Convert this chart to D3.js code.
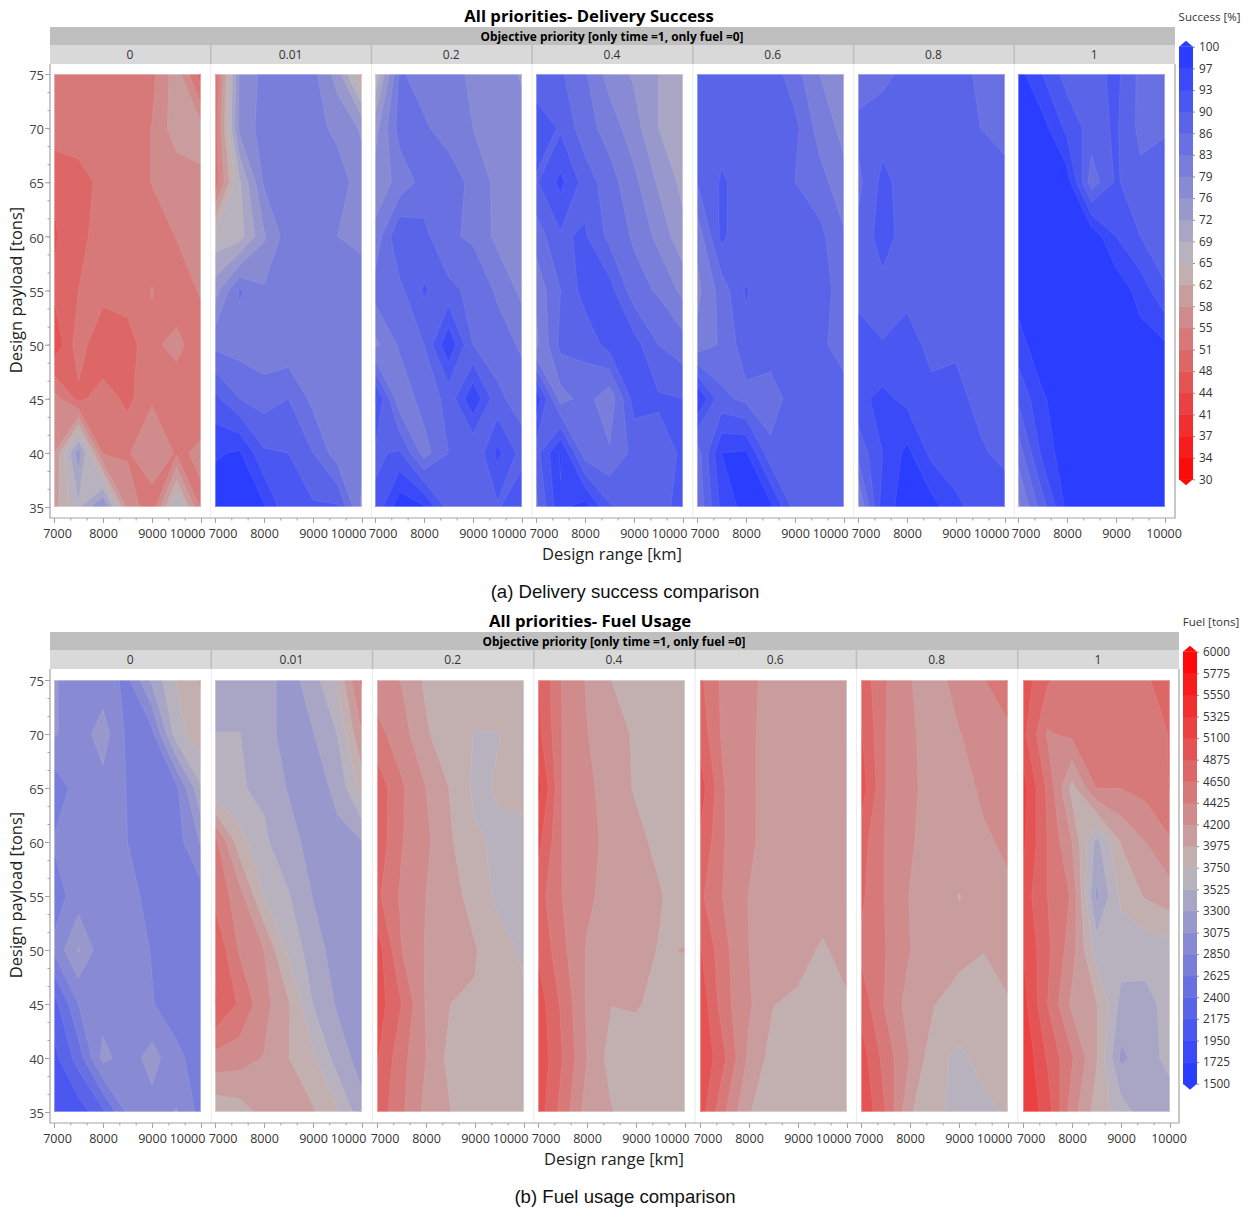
<!DOCTYPE html>
<html>
<head>
<meta charset="utf-8">
<script src="https://d3js.org/d3.v7.min.js"></script>
<style>
  html, body { margin: 0; padding: 0; background: #fff; }
  svg { display: block; }
  text { font-family: "Open Sans", "Noto Sans", sans-serif; }
</style>
</head>
<body>
<svg id="svg" width="1251" height="1209"></svg>
<script>
// grid axes of every panel
var rangeKm = [7000, 7500, 8000, 8500, 9000, 9500, 10000];
var payloadTons = [75, 70, 65, 60, 55, 50, 45, 40, 35];
var priorities = ["0", "0.01", "0.2", "0.4", "0.6", "0.8", "1"];
var rangeTicks = [7000, 8000, 9000, 10000];
var payloadTicks = [35, 40, 45, 50, 55, 60, 65, 70, 75];
var successTicks = [100, 97, 93, 90, 86, 83, 79, 76, 72, 69, 65, 62, 58, 55, 51, 48, 44, 41, 37, 34, 30];
var fuelTicks = [6000, 5775, 5550, 5325, 5100, 4875, 4650, 4425, 4200, 3975, 3750, 3525, 3300, 3075, 2850, 2625, 2400, 2175, 1950, 1725, 1500];

// delivery success [%], rows follow payloadTons, columns follow rangeKm
var success0 = [
  [53, 53, 53, 53, 53.5, 60, 49],
  [53, 53, 53, 53, 54.6, 60, 59],
  [48, 49.5, 52, 53, 54.6, 55.5, 57.5],
  [47, 50, 52.5, 53, 53, 54.6, 55.5],
  [48, 51, 52.5, 53, 54.6, 53, 54.8],
  [44.5, 53, 47.5, 49, 54, 55.2, 53],
  [56, 50, 53, 50, 54, 53, 53],
  [58, 74, 54, 54, 58, 54, 55],
  [60, 68, 76, 57, 52, 69, 54]
];
var success1 = [
  [50, 76, 80, 80, 80, 74, 60],
  [52, 76.5, 80.5, 81, 80.5, 78, 75],
  [52, 68, 79.5, 81, 81, 81, 77],
  [66, 67, 75, 81, 81, 79, 78],
  [74, 83, 79.5, 80, 81, 81, 81],
  [81.5, 81, 80, 80, 80, 80, 80],
  [90.5, 86, 84.5, 86, 81.5, 80, 80],
  [96, 97, 90, 89.5, 86, 80.5, 80],
  [99, 99, 97, 90, 90, 90, 78]
];
var success2 = [
  [65, 83, 81, 81, 78, 78, 75],
  [74, 84, 83, 81, 79, 77.5, 77],
  [77, 80, 84, 84.5, 81.5, 78, 77],
  [80, 89.5, 87, 83, 82, 78, 77],
  [84, 85, 90, 87, 85, 82, 78],
  [78, 83, 86, 96, 86, 84, 82],
  [94, 80, 84, 87, 96, 87, 84],
  [89, 90, 81, 86, 86, 94, 88],
  [90, 99, 97, 88, 87, 89, 93]
];
var success3 = [
  [87, 86.5, 83, 77.5, 75, 72, 71],
  [92, 89, 84, 81, 77, 72, 71],
  [89, 94, 88, 84, 80, 75, 71],
  [84, 89, 90, 85, 82, 78, 73],
  [80, 86, 91, 91, 84, 82, 78],
  [78, 87, 87, 91, 91, 86, 84],
  [96, 81, 84, 80, 91, 90, 89.5],
  [88, 97, 84, 83, 87, 88, 90],
  [85, 96, 98, 90, 87, 89, 90]
];
var success4 = [
  [87, 88, 88, 88, 84, 79, 77],
  [87, 88, 88, 88, 87, 81, 78],
  [86, 90, 88, 88, 86, 84, 80],
  [80, 90.5, 86, 88, 88, 87, 83],
  [78, 84, 90, 86, 88, 88, 84],
  [80, 83, 88, 88, 88, 87, 84],
  [97, 87, 85, 84, 88, 88, 88],
  [84, 96.5, 97, 87, 88, 88, 87],
  [83, 94, 98, 97.5, 88, 88, 88]
];
var success5 = [
  [84, 85, 87, 88, 88, 85, 84],
  [87, 88, 88, 88, 88, 86, 85],
  [85, 90.5, 88, 88, 86.5, 88, 87],
  [87, 91, 88, 88, 88, 88, 88],
  [88.5, 88.5, 88.5, 88, 88, 88, 88],
  [91, 89.6, 91, 88.5, 89, 88, 88],
  [92, 94, 92, 90.5, 90.5, 88.5, 87],
  [87, 93, 97.5, 92, 90.5, 90, 88.5],
  [78, 95, 98, 98, 94, 91, 91.6]
];
var success6 = [
  [98, 93, 88, 88, 90.5, 85, 85],
  [97, 98, 92, 88, 90, 85, 85.8],
  [98, 98, 98.5, 84, 90, 87, 87],
  [98, 99, 99, 99, 93, 89.5, 87],
  [98, 99, 99, 99, 99, 95, 90],
  [95, 99, 99, 99, 99, 98, 97],
  [90, 96, 99, 99, 99, 99, 99],
  [84, 94, 99, 99, 99, 99, 99],
  [78, 88, 97.5, 99, 99, 99, 99]
];

// fuel usage [tons], same layout as above
var fuel0 = [
  [3100, 2950, 2950, 2800, 3350, 3760, 4000],
  [3100, 2960, 3180, 2800, 2780, 3650, 3900],
  [2700, 2950, 3000, 2840, 2750, 2800, 3500],
  [2870, 2950, 2950, 2850, 2750, 2750, 3100],
  [2750, 2950, 3050, 2900, 2800, 2750, 2750],
  [2900, 3320, 2912, 2950, 2840, 2750, 2750],
  [2300, 2850, 2960, 2950, 2860, 2750, 2750],
  [2100, 2500, 3150, 2950, 3170, 2900, 2750],
  [2050, 2050, 2350, 2900, 2980, 3090, 2770]
];
var fuel1 = [
  [3400, 3400, 3400, 3200, 3420, 3800, 4500],
  [3530, 3530, 3400, 3200, 3290, 3530, 4200],
  [3550, 3540, 3490, 3280, 3200, 3350, 3850],
  [4500, 3850, 3560, 3400, 3200, 3250, 3290],
  [4600, 4300, 3750, 3540, 3290, 3200, 3200],
  [4850, 4400, 4200, 3700, 3400, 3200, 3200],
  [4900, 4620, 4280, 4000, 3520, 3270, 3200],
  [4350, 4300, 4190, 3980, 3800, 3420, 3200],
  [3800, 3870, 4050, 3975, 4000, 3770, 3375]
];
var fuel2 = [
  [4300, 4190, 3930, 3850, 3850, 3850, 3850],
  [4500, 4300, 4010, 3800, 3745, 3745, 3850],
  [4800, 4460, 4200, 3960, 3700, 3780, 3850],
  [4800, 4440, 4250, 4000, 3790, 3700, 3650],
  [4700, 4390, 4200, 4050, 3900, 3680, 3650],
  [5000, 4430, 4180, 4080, 3990, 3850, 3700],
  [5000, 4650, 4180, 3975, 3960, 3900, 3800],
  [4900, 4500, 4200, 3900, 3860, 3860, 3860],
  [4800, 4470, 4130, 3980, 3860, 3860, 3860]
];
var fuel3 = [
  [4900, 4400, 4180, 3975, 3850, 3850, 3850],
  [4950, 4420, 4210, 4020, 3960, 3850, 3850],
  [5200, 4420, 4250, 4100, 3950, 3850, 3850],
  [4950, 4420, 4250, 4150, 4040, 3910, 3850],
  [4750, 4420, 4250, 4100, 3990, 3990, 3850],
  [4850, 4480, 4180, 4100, 4050, 3960, 3985],
  [5000, 4600, 4170, 3980, 4000, 3900, 3850],
  [5050, 4650, 4200, 3880, 3850, 3850, 3850],
  [5000, 4560, 4100, 3990, 3850, 3850, 3850]
];
var fuel4 = [
  [4700, 4350, 4250, 4120, 4080, 4080, 4080],
  [4800, 4350, 4250, 4080, 4080, 4080, 4080],
  [5000, 4430, 4240, 4100, 4080, 4080, 4080],
  [4850, 4430, 4250, 4080, 4080, 4080, 4080],
  [4700, 4400, 4190, 4070, 4060, 4060, 4060],
  [4900, 4480, 4200, 4100, 4050, 3950, 4050],
  [5050, 4500, 4230, 3980, 3940, 3900, 3950],
  [5100, 4680, 4150, 3880, 3850, 3850, 3850],
  [5000, 4450, 3985, 3880, 3850, 3745, 3800]
];
var fuel5 = [
  [4800, 4440, 4210, 4100, 4300, 4420, 4500],
  [4900, 4430, 4250, 4060, 4190, 4300, 4400],
  [5000, 4430, 4250, 4100, 4100, 4250, 4300],
  [4750, 4410, 4230, 4080, 4060, 4160, 4250],
  [4700, 4410, 4190, 4050, 3970, 4050, 4150],
  [4600, 4430, 4205, 4080, 4030, 3980, 4100],
  [4800, 4400, 4100, 3980, 3900, 3900, 3950],
  [5000, 4550, 4190, 3820, 3700, 3830, 3850],
  [5100, 4650, 4000, 3800, 3680, 3680, 3800]
];
var fuel6 = [
  [5000, 4680, 4500, 4500, 4500, 4620, 4760],
  [4950, 4400, 4480, 4450, 4520, 4550, 4660],
  [5200, 4600, 3900, 4430, 4430, 4500, 4660],
  [5150, 4650, 4200, 3450, 3990, 4200, 4400],
  [5000, 4650, 4400, 3250, 3800, 4000, 4100],
  [5100, 4700, 4300, 3650, 3620, 3610, 3650],
  [5200, 4650, 4150, 3990, 3460, 3460, 3600],
  [5300, 4850, 4450, 4000, 3250, 3420, 3600],
  [5300, 5000, 4300, 3880, 3650, 3380, 3400]
];

var svg = d3.select("svg");
var bandCount = successTicks.length - 1;

/**
 * Draws one faceted contour chart with its strips, axes, legend and caption
 */
function contour_facets(opt) {
    var g = svg.append("g");
    var nx = rangeKm.length, ny = payloadTons.length;
    var lo = opt.domain[0], hi = opt.domain[1], step = (hi - lo) / bandCount, mid = (lo + hi) / 2;
    var thresholds = d3.range(bandCount).map(function (i) { return lo + i * step; });

    var color = d3.scaleLinear()
            .domain([lo + step / 2, mid, hi - step / 2])
            .range(opt.colors)
            .interpolate(d3.interpolateRgb);

    // header strips
    g.append("rect").attr("x", opt.left).attr("y", opt.stripTop)
            .attr("width", opt.right - opt.left).attr("height", 18).attr("fill", "#bfbfbf");
    g.append("rect").attr("x", opt.left).attr("y", opt.stripTop + 18)
            .attr("width", opt.right - opt.left).attr("height", 19).attr("fill", "#d9d9d9");

    var cellW = (opt.right - opt.left) / priorities.length;
    priorities.forEach(function (p, i) {
        var cx = opt.left + i * cellW;
        if (i > 0) {
            g.append("line").attr("x1", cx).attr("x2", cx).attr("y1", opt.stripTop + 18).attr("y2", opt.stripTop + 37)
                    .attr("stroke", "#bdbdbd").attr("stroke-width", 1.5);
            g.append("line").attr("x1", cx).attr("x2", cx).attr("y1", opt.stripTop + 37).attr("y2", opt.axisY)
                    .attr("stroke", "#ececec");
        }
        g.append("text").attr("x", cx + cellW / 2 - 0.5).attr("y", opt.stripTop + 32)
                .attr("text-anchor", "middle").attr("font-size", 12).attr("fill", "#333").text(p);
    });

    // frame
    g.append("path").attr("fill", "none").attr("stroke", "#a3a3a3").attr("stroke-width", 1.2)
            .attr("d", "M" + opt.left + "," + (opt.stripTop + 37) + "V" + opt.axisY + "H" + opt.right + "V" + (opt.stripTop + 37));

    var y = d3.scaleLinear().domain([35, 75]).range([opt.plotBottom, opt.plotTop]);

    // y axis, major and minor ticks
    g.append("g").attr("transform", "translate(" + opt.left + ",0)")
            .call(d3.axisLeft(y).tickValues(d3.range(35, 75.01, 5 / 3)).tickSize(2.5).tickFormat(""))
            .call(function (a) { a.select(".domain").remove(); a.selectAll("line").attr("stroke", "#a3a3a3"); });
    g.append("g").attr("transform", "translate(" + opt.left + ",0)")
            .call(d3.axisLeft(y).tickValues(payloadTicks).tickSize(5).tickPadding(1).tickFormat(d3.format("d")))
            .call(function (a) {
                a.select(".domain").remove();
                a.selectAll("line").attr("stroke", "#a3a3a3");
                a.selectAll("text").attr("font-size", 13).attr("fill", "#444").attr("font-family", null)
                        .attr("y", 1.5);
            });

    opt.panels.forEach(function (grid, i) {
        var x0 = Math.round(opt.firstPanel + i * opt.panelStep);
        var x = d3.scaleLinear().domain([7000, 10000]).range([x0, x0 + opt.panelW]);

        var clipId = opt.name + "-clip-" + i;
        g.append("clipPath").attr("id", clipId).append("rect")
                .attr("x", x0).attr("y", opt.plotTop)
                .attr("width", opt.panelW).attr("height", opt.plotBottom - opt.plotTop);

        // grid units -> screen, d3.contours puts sample i at i + 0.5
        var gridX = d3.scaleLinear().domain([0.5, nx - 0.5]).range([x(7000), x(10000)]);
        var gridY = d3.scaleLinear().domain([0.5, ny - 0.5]).range([y(75), y(35)]);
        var path = d3.geoPath(d3.geoTransform({
            point: function (px, py) { this.stream.point(gridX(px), gridY(py)); }
        }));

        var contours = d3.contours().size([nx, ny]).smooth(true).thresholds(thresholds)(d3.merge(grid));

        g.append("g").attr("clip-path", "url(#" + clipId + ")")
                .selectAll("path").data(contours).enter().append("path")
                .attr("d", path)
                .attr("fill", function (d) { return color(d.value + step / 2); })
                .attr("stroke", "#fff").attr("stroke-opacity", 0.14).attr("stroke-width", 0.6);

        // pale rim round the filled area
        g.append("rect").attr("x", x0 + 0.5).attr("y", opt.plotTop + 0.5)
                .attr("width", opt.panelW - 1).attr("height", opt.plotBottom - opt.plotTop - 1)
                .attr("fill", "none").attr("stroke", "#fff").attr("stroke-opacity", 0.35);

        // x axis
        g.append("g").attr("transform", "translate(0," + opt.axisY + ")")
                .call(d3.axisBottom(x).tickValues(d3.range(7000, 10000.5, 1000 / 3)).tickSize(2.5).tickFormat(""))
                .call(function (a) { a.select(".domain").remove(); a.selectAll("line").attr("stroke", "#a3a3a3"); });
        g.append("g").attr("transform", "translate(0," + opt.axisY + ")")
                .call(d3.axisBottom(x).tickValues(rangeTicks).tickSize(5).tickPadding(6).tickFormat(d3.format("d")))
                .call(function (a) {
                    a.select(".domain").remove();
                    a.selectAll("line").attr("stroke", "#a3a3a3");
                    a.selectAll("text").attr("font-size", 12.5).attr("fill", "#333").attr("font-family", null)
                            .attr("dx", function (d) {
                                if (d === 7000) return i === 0 ? 3 : 7.5;
                                if (d === 10000) return i === 6 ? -1.5 : -14;
                                return 0;
                            });
                });
    });

    // titles
    g.append("text").attr("x", opt.titleX).attr("y", opt.stripTop - 5)
            .attr("text-anchor", "middle").attr("font-size", 16.7).attr("font-weight", 700).attr("fill", "#000").text(opt.title);
    g.append("text").attr("x", opt.stripX).attr("y", opt.stripTop + 13.5)
            .attr("text-anchor", "middle").attr("font-size", 11.9).attr("font-weight", 700).attr("fill", "#000")
            .text("Objective priority [only time =1, only fuel =0]");
    g.append("text").attr("transform", "translate(" + 22 + "," + opt.payloadY + ") rotate(-90)")
            .attr("text-anchor", "middle").attr("font-size", 16.5).attr("fill", "#222").text("Design payload [tons]");
    g.append("text").attr("x", opt.stripX).attr("y", opt.axisY + 42)
            .attr("text-anchor", "middle").attr("font-size", 16.5).attr("fill", "#222").text("Design range [km]");
    g.append("text").attr("x", 625).attr("y", opt.captionY)
            .attr("text-anchor", "middle").attr("font-size", 18.6).attr("fill", "#111")
            .style("font-family", "'Liberation Sans', Arial, sans-serif").text(opt.caption);

    // legend
    var legend = d3.scaleLinear().domain(opt.domain).range(opt.legendY);
    var lx = opt.legendX, lw = 14;
    thresholds.forEach(function (t) {
        g.append("rect").attr("x", lx).attr("width", lw)
                .attr("y", Math.min(legend(t), legend(t + step)))
                .attr("height", Math.abs(legend(t) - legend(t + step)) + 0.5)
                .attr("fill", color(t + step / 2));
    });
    var topY = d3.min(opt.legendY), botY = d3.max(opt.legendY);
    g.append("path").attr("fill", opt.colors[2])
            .attr("d", "M" + lx + "," + topY + "L" + (lx + lw / 2) + "," + (topY - 6) + "L" + (lx + lw) + "," + topY + "Z");
    g.append("path").attr("fill", opt.colors[0])
            .attr("d", "M" + lx + "," + botY + "L" + (lx + lw / 2) + "," + (botY + 6) + "L" + (lx + lw) + "," + botY + "Z");

    g.append("g").attr("transform", "translate(" + (lx + lw) + ",0)")
            .call(d3.axisRight(legend).tickValues(opt.legendTicks.map(function (d, i) {
                return hi - i * step;
            })).tickSize(2).tickPadding(4).tickFormat(function (d, i) { return opt.legendTicks[i]; }))
            .call(function (a) {
                a.select(".domain").remove();
                a.selectAll("line").attr("stroke", "#8f8f8f");
                a.selectAll("text").attr("font-size", 11.8).attr("fill", "#333").attr("font-family", null);
            });
    g.append("text").attr("x", opt.legendTitleX).attr("y", opt.legendTitleY)
            .attr("text-anchor", "middle").attr("font-size", 11.5).attr("fill", "#333").text(opt.legendTitle);
}

contour_facets({
    name: "success",
    panels: [success0, success1, success2, success3, success4, success5, success6],
    domain: [30, 100],
    colors: ["#ff0a0a", "#bfb9ba", "#2b3dff"],
    legendTicks: successTicks,
    title: "All priorities- Delivery Success",
    caption: "(a) Delivery success comparison",
    legendTitle: "Success [%]",
    left: 50, right: 1175, stripTop: 27, axisY: 518,
    plotTop: 74, plotBottom: 507,
    firstPanel: 54, panelStep: 160.7, panelW: 147,
    titleX: 589, stripX: 612, payloadY: 290, captionY: 598,
    legendX: 1179, legendY: [479.3, 46.7], legendTitleX: 1209.5, legendTitleY: 21
});

contour_facets({
    name: "fuel",
    panels: [fuel0, fuel1, fuel2, fuel3, fuel4, fuel5, fuel6],
    domain: [1500, 6000],
    colors: ["#2b3dff", "#bfb9ba", "#ff0a0a"],
    legendTicks: fuelTicks,
    title: "All priorities- Fuel Usage",
    caption: "(b) Fuel usage comparison",
    legendTitle: "Fuel [tons]",
    left: 50, right: 1179, stripTop: 632, axisY: 1123,
    plotTop: 680, plotBottom: 1112,
    firstPanel: 54, panelStep: 161.45, panelW: 147,
    titleX: 590, stripX: 614, payloadY: 895, captionY: 1203,
    legendX: 1183, legendY: [1083.7, 651.7], legendTitleX: 1211, legendTitleY: 626
});
</script>
</body>
</html>
